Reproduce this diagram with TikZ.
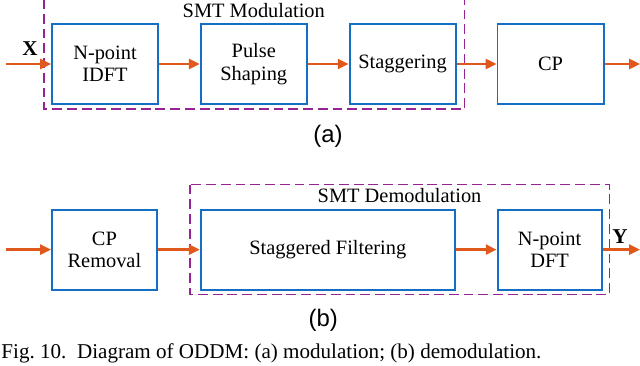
\documentclass[tikz,border=0pt]{standalone}
\usepackage{fontspec}
\setmainfont{Liberation Serif}
\setsansfont{Liberation Sans}
\usetikzlibrary{arrows.meta,positioning,calc}

\definecolor{boxblue}{RGB}{20,110,195}
\definecolor{arrorange}{RGB}{224,88,28}
\definecolor{smtpurple}{RGB}{150,35,150}

\begin{document}
\begin{tikzpicture}[
  block/.style={draw=boxblue, line width=1.4pt, align=center, minimum width=2.65cm, minimum height=2.0cm, font=\fontsize{14.5}{16}\selectfont, inner sep=1pt},
  arr/.style={-{Triangle[length=2.7mm, width=2.5mm]}, draw=arrorange, line width=1.7pt},
  group/.style={draw=smtpurple, dash pattern=on 7pt off 3.5pt, line width=1.2pt},
  note/.style={font=\fontsize{14.5}{16}\selectfont},
  sub/.style={font=\sffamily\fontsize{17}{19}\selectfont}
]
\useasboundingbox (0,0) rectangle (16,-9.125);

% (a) modulation
\node[block] (idft) at (2.625,-1.6) {N-point\\IDFT};
\node[block, right=1.02cm of idft] (pulse) {Pulse\\Shaping};
\node[block, right=1.02cm of pulse] (stag) {Staggering};
\node[block, right=1.0cm of stag] (cp) {CP};
\coordinate (xin) at (0.15,-1.6);
\coordinate (aout) at (16,-1.6);

\draw[group] ($(idft.north west)+(-0.175,0.6)$) rectangle ($(stag.south east)+(0.2,-0.1)$);
\node[note, below=-0.02cm of {$(idft.north west)!0.5!(stag.north east)+(0,0.6)$}] (modlbl) {SMT Modulation};

\draw[arr] (xin) -- (idft);
\draw[arr] (idft) -- (pulse);
\draw[arr] (pulse) -- (stag);
\draw[arr] (stag) -- (cp);
\draw[arr] (cp) -- (aout);
\node[font=\bfseries\fontsize{15}{16}\selectfont] (xlbl) at (0.75,-1.22) {X};
\node[sub] (alabel) at (8.2,-3.42) {(a)};

% (b) demodulation
\node[block, minimum width=2.62cm] (cprem) at (2.61,-6.24) {CP\\Removal};
\node[block, minimum width=6.35cm, right=1.05cm of cprem] (filt) {Staggered Filtering};
\node[block, minimum width=2.6cm, right=1.02cm of filt] (dft) {N-point\\DFT};
\coordinate (bin) at (0.15,-6.24);
\coordinate (yout) at (16,-6.24);

\draw[group] ($(filt.north west)+(-0.25,0.6)$) rectangle ($(dft.south east)+(0.175,-0.1)$);
\node[note, below=-0.02cm of {$(filt.north west)!0.5!(dft.north east)+(-0.04,0.6)$}] (demodlbl) {SMT Demodulation};

\draw[arr] (bin) -- (cprem);
\draw[arr] (cprem) -- (filt);
\draw[arr] (filt) -- (dft);
\draw[arr] (dft) -- (yout);
\node[font=\bfseries\fontsize{15}{16}\selectfont] (ylbl) at (15.5,-5.92) {Y};
\node[sub] (blabel) at (8.08,-8.0) {(b)};

% caption
\node[anchor=base west, inner sep=0pt, font=\fontsize{15}{17}\selectfont] (caption) at (0.03,-8.97) {Fig.~10.\enspace Diagram of ODDM: (a) modulation; (b) demodulation.};
\end{tikzpicture}
\end{document}
